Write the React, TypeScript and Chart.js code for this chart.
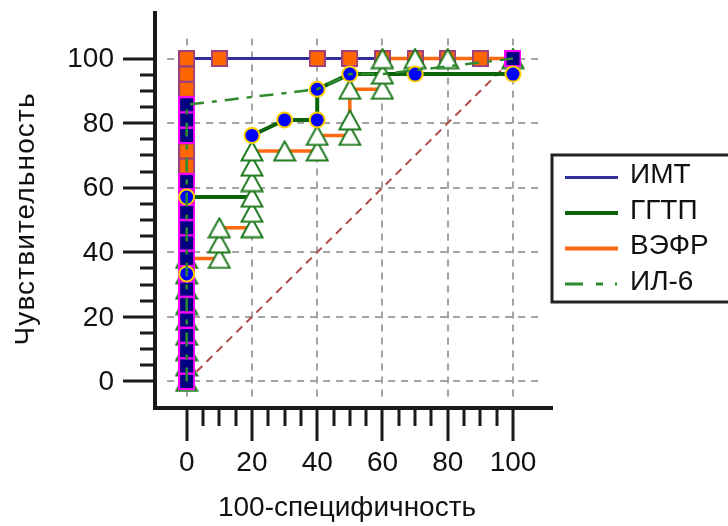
import React, { useEffect, useRef } from "react";
import { Chart, registerables } from "chart.js";

Chart.register(...registerables);

// ---------- data ----------
const seriesNames = ["ИМТ", "ГГТП", "ВЭФР", "ИЛ-6"];
const xAxisTitle = "100-специфичность";
const yAxisTitle = "Чувствительность";
const xTickValues = [0, 20, 40, 60, 80, 100];
const yTickValues = [0, 20, 40, 60, 80, 100];

// ROC paths (x = 100-specificity, y = sensitivity)
const imtX = [0, 0, 100];
const imtY = [0, 100, 100];
const ggtpX = [0, 0, 0, 20, 20, 20, 30, 40, 40, 50, 70, 100, 100];
const ggtpY = [0, 33.3, 57.1, 57.1, 66.7, 76.2, 81.0, 81.0, 90.5, 95.2, 95.2, 95.2, 100];
const vefrX = [0, 0, 10, 10, 20, 20, 40, 40, 50, 50, 60, 60, 100];
const vefrY = [0, 38.1, 38.1, 47.6, 47.6, 71.4, 71.4, 76.2, 76.2, 90.5, 90.5, 100, 100];
const il6X = [0, 0, 40, 50, 60, 100];
const il6Y = [0, 85.7, 90.5, 95.2, 95.2, 100];
const diagX = [0, 100];
const diagY = [0, 100];

// markers
const circleX = [0, 0, 20, 30, 40, 40, 50, 70, 100];
const circleY = [33.3, 57.1, 76.2, 81.0, 81.0, 90.5, 95.2, 95.2, 95.2];
const navySqX = [0, 0, 0, 0, 0, 0, 0, 0, 0, 0, 0, 0, 0, 0, 0, 0, 0, 100];
const navySqY = [0, 4.8, 9.5, 14.3, 19.0, 23.8, 28.6, 33.3, 38.1, 42.9, 47.6, 52.4, 57.1, 61.9, 76.2, 81.0, 85.7, 100];
const orangeSqX = [0, 0, 0, 0, 0, 10, 40, 50, 60, 70, 80, 90];
const orangeSqY = [66.7, 71.4, 90.5, 95.2, 100, 100, 100, 100, 100, 100, 100, 100];
const triX = [0, 0, 0, 0, 0, 0, 0, 0, 0, 10, 10, 10, 20, 20, 20, 20, 20, 20, 30, 40, 40, 50, 50, 50, 60, 60, 60, 70, 80, 100];
const triY = [0, 4.8, 9.5, 14.3, 19.0, 23.8, 28.6, 33.3, 38.1, 38.1, 42.9, 47.6, 47.6, 52.4, 57.1, 61.9, 66.7, 71.4, 71.4, 71.4, 76.2, 76.2, 81.0, 90.5, 90.5, 95.2, 100, 100, 100, 100];

// ---------- style ----------
const FONT = '"Liberation Sans", Arial, sans-serif';
const C_NAVY = "#2e2e9c";
const C_GREEN = "#0a640a";
const C_ORANGE = "#ff6a10";
const C_IL6 = "#2e8a2e";
const C_DIAG = "#b04a4a";
const legendStyles = [
  { color: C_NAVY, width: 3, dash: [] as number[] },
  { color: C_GREEN, width: 4, dash: [] as number[] },
  { color: C_ORANGE, width: 4, dash: [] as number[] },
  { color: C_IL6, width: 3, dash: [18, 13, 7, 12, 2, 30] },
];

const zip = (xs: number[], ys: number[]) => xs.map((x, i) => ({ x, y: ys[i] }));

function makeTriangle(): HTMLCanvasElement {
  const c = document.createElement("canvas");
  c.width = 24;
  c.height = 22;
  const g = c.getContext("2d")!;
  g.beginPath();
  g.moveTo(12, 1.5);
  g.lineTo(22.5, 20.5);
  g.lineTo(1.5, 20.5);
  g.closePath();
  g.fillStyle = "#ffffff";
  g.fill();
  g.lineWidth = 2;
  g.lineJoin = "miter";
  g.strokeStyle = "#1f7a1f";
  g.stroke();
  return c;
}

function makeSquare(fill: string, border: string): HTMLCanvasElement {
  const c = document.createElement("canvas");
  c.width = 17;
  c.height = 17;
  const g = c.getContext("2d")!;
  g.fillStyle = border;
  g.fillRect(0, 0, 17, 17);
  g.fillStyle = fill;
  g.fillRect(2, 2, 13, 13);
  return c;
}

// draw text centred at (0,0), stretched by letter spacing to a target width
function fitText(ctx: any, text: string, target: number) {
  ctx.letterSpacing = "0px";
  const w = ctx.measureText(text).width;
  const sp = Math.max(0, (target - w) / Math.max(1, text.length - 1));
  ctx.letterSpacing = `${sp}px`;
  const w2 = ctx.measureText(text).width;
  ctx.textAlign = "left";
  ctx.fillText(text, -w2 / 2 + sp / 2, 0);
  ctx.letterSpacing = "0px";
}

const decorPlugin = {
  id: "decor",
  beforeDatasetsDraw(chart: any) {
    const { ctx, chartArea } = chart;
    const xs = chart.scales.x;
    const ys = chart.scales.y;
    const L = chartArea.left;
    const B = chartArea.bottom;
    ctx.save();
    // grid
    ctx.strokeStyle = "#a3a3a3";
    ctx.lineWidth = 2;
    ctx.setLineDash([7, 6]);
    const gTop = ys.getPixelForValue(106.2);
    const gBot = ys.getPixelForValue(-5.8);
    const gLeft = xs.getPixelForValue(-6);
    const gRight = xs.getPixelForValue(108.3);
    for (const v of xTickValues) {
      const px = Math.round(xs.getPixelForValue(v));
      ctx.beginPath();
      ctx.moveTo(px, gTop);
      ctx.lineTo(px, gBot);
      ctx.stroke();
    }
    for (const v of yTickValues) {
      const py = Math.round(ys.getPixelForValue(v));
      ctx.beginPath();
      ctx.moveTo(gLeft, py);
      ctx.lineTo(gRight, py);
      ctx.stroke();
    }
    ctx.setLineDash([]);
    // axis lines
    ctx.strokeStyle = "#1a1a1a";
    ctx.lineWidth = 4;
    ctx.beginPath();
    ctx.moveTo(L, chartArea.top);
    ctx.lineTo(L, B + 2);
    ctx.moveTo(L - 2, B);
    ctx.lineTo(chartArea.right, B);
    ctx.stroke();
    // ticks
    ctx.lineWidth = 3;
    ctx.beginPath();
    for (let v = 0; v <= 100; v += 5) {
      const major = v % 20 === 0;
      const py = Math.round(ys.getPixelForValue(v));
      ctx.moveTo(L - (major ? 32 : 15), py);
      ctx.lineTo(L, py);
      const px = Math.round(xs.getPixelForValue(v));
      ctx.moveTo(px, B);
      ctx.lineTo(px, B + (major ? 33 : 18));
    }
    ctx.stroke();
    // tick labels
    ctx.fillStyle = "#111";
    ctx.font = `28px ${FONT}`;
    ctx.textBaseline = "middle";
    ctx.textAlign = "right";
    for (const v of yTickValues) {
      ctx.fillText(String(v), L - 41, ys.getPixelForValue(v) + 1);
    }
    ctx.textAlign = "center";
    for (const v of xTickValues) {
      ctx.fillText(String(v), xs.getPixelForValue(v), B + 55);
    }
    // titles
    ctx.save();
    ctx.translate((L + chartArea.right) / 2 - 7, B + 100);
    fitText(ctx, xAxisTitle, 257);
    ctx.restore();
    ctx.save();
    ctx.translate(26, (chartArea.top + B) / 2 + 10);
    ctx.rotate(-Math.PI / 2);
    fitText(ctx, yAxisTitle, 252);
    ctx.restore();
    ctx.restore();
  },
  afterDraw(chart: any) {
    const { ctx, chartArea } = chart;
    ctx.save();
    const bx = chartArea.right - 1;
    const by = 155;
    ctx.strokeStyle = "#222";
    ctx.lineWidth = 3;
    ctx.strokeRect(bx, by, 200, 147);
    ctx.font = `28px ${FONT}`;
    ctx.textBaseline = "middle";
    ctx.textAlign = "left";
    seriesNames.forEach((name, i) => {
      const y = 175.5 + i * 35.5;
      const st = legendStyles[i];
      ctx.strokeStyle = st.color;
      ctx.lineWidth = st.width;
      ctx.setLineDash(st.dash);
      ctx.beginPath();
      ctx.moveTo(bx + 13, y + 2);
      ctx.lineTo(bx + 66, y + 2);
      ctx.stroke();
      ctx.setLineDash([]);
      ctx.fillStyle = "#111";
      ctx.fillText(name, bx + 78, y);
    });
    ctx.restore();
  },
};

export default function App() {
  const ref = useRef<HTMLCanvasElement | null>(null);
  useEffect(() => {
    if (!ref.current) return;
    const tri = makeTriangle();
    const sqOrange = makeSquare("#ff6600", "#a0407a");
    const sqNavy = makeSquare("#000080", "#ff00ff");
    const line = (label: string, xs: number[], ys: number[], color: string, width: number, dash: number[], order: number) => ({
      label,
      data: zip(xs, ys),
      showLine: true,
      borderColor: color,
      borderWidth: width,
      borderDash: dash,
      pointRadius: 0,
      fill: false,
      tension: 0,
      order,
    });
    const marks = (label: string, xs: number[], ys: number[], style: any, r: number, bg: string, bc: string, bw: number, order: number) => ({
      label,
      data: zip(xs, ys),
      showLine: false,
      pointStyle: style,
      pointRadius: r,
      pointBackgroundColor: bg,
      pointBorderColor: bc,
      pointBorderWidth: bw,
      order,
    });
    const chart = new Chart(ref.current, {
      type: "scatter",
      data: {
        datasets: [
          line("diag", diagX, diagY, C_DIAG, 2, [8, 6], 20),
          line(seriesNames[0], imtX, imtY, C_NAVY, 3, [], 19),
          line(seriesNames[2], vefrX, vefrY, C_ORANGE, 3.5, [], 18),
          line(seriesNames[1], ggtpX, ggtpY, C_GREEN, 4, [], 17),
          marks("orangeSq", orangeSqX, orangeSqY, sqOrange, 9, "#ff6600", "#a0407a", 0, 15),
          marks("tri", triX, triY, tri, 11, "#fff", "#1f7a1f", 0, 14),
          marks("navySq", navySqX, navySqY, sqNavy, 9, "#000080", "#ff00ff", 0, 13),
          marks("circle", circleX, circleY, "circle", 7.5, "#0000ff", "#ffd000", 2, 12),
          line(seriesNames[3], il6X, il6Y, C_IL6, 2.5, [14, 8, 5, 8], 11),
        ] as any,
      },
      options: {
        responsive: false,
        animation: false,
        devicePixelRatio: 1,
        events: [],
        layout: { padding: { left: 155, top: 5, right: 175, bottom: 118 } },
        plugins: { legend: { display: false }, tooltip: { enabled: false } },
        scales: {
          x: { type: "linear", min: -9.71, max: 112.26, display: false },
          y: { type: "linear", min: -8.24, max: 114.74, display: false },
        },
      } as any,
      plugins: [decorPlugin],
    });
    return () => chart.destroy();
  }, []);
  return (
    <div style={{ position: "fixed", left: 0, top: 0, width: 728, height: 526, background: "#fff" }}>
      <canvas ref={ref} width={728} height={526} />
    </div>
  );
}
